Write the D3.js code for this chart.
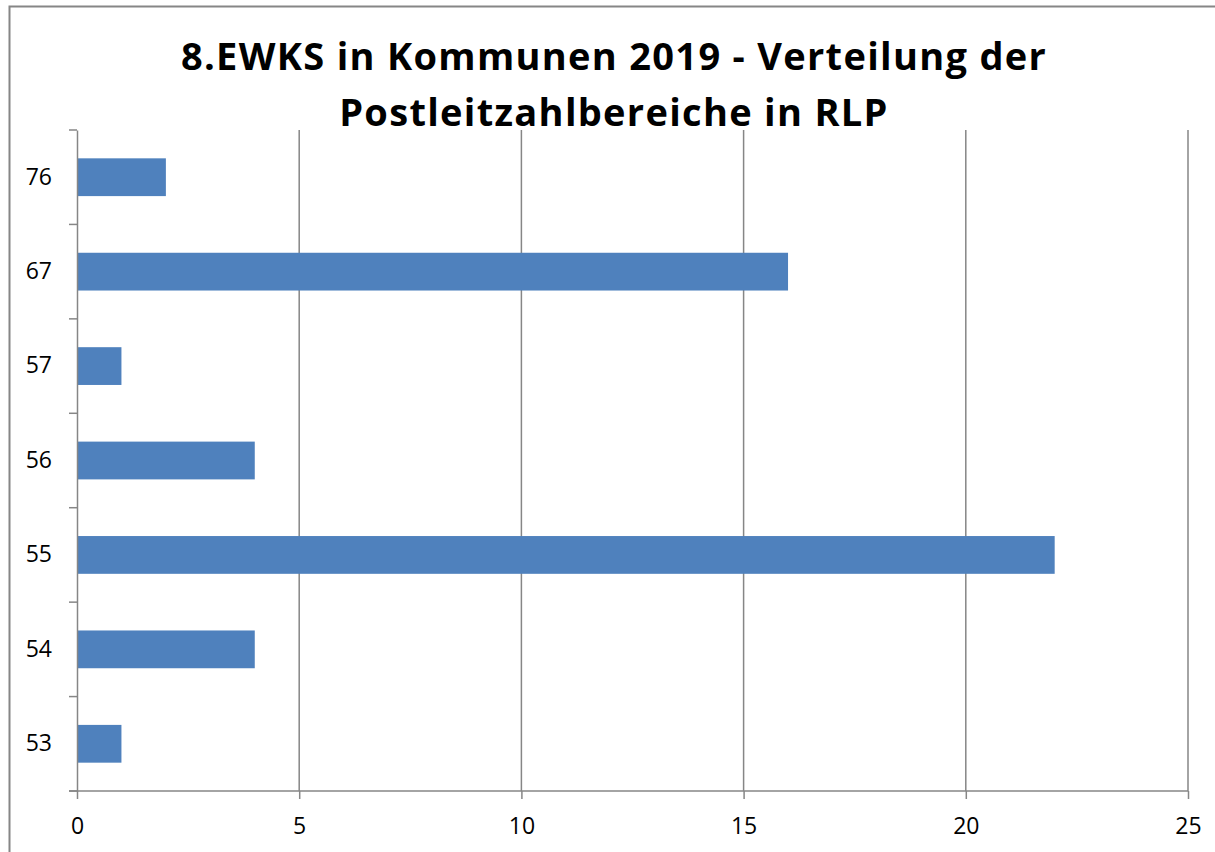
<!DOCTYPE html>
<html>
<head>
<meta charset="utf-8">
<script src="https://cdn.jsdelivr.net/npm/d3@7"></script>
<style>
  body { margin: 0; background: #fff; }
  svg { display: block; }
</style>
</head>
<body>
<script>
// Postleitzahlbereiche (von unten nach oben)
const categories = ["53", "54", "55", "56", "57", "67", "76"]
const counts     = [1, 4, 22, 4, 1, 16, 2]
const xTicks     = [0, 5, 10, 15, 20, 25]
const titleLines = ["8.EWKS in Kommunen 2019 - Verteilung der", "Postleitzahlbereiche in RLP"]

const width  = 1215,
      height = 852

let margin = {top: 130, right: 27, bottom: 61, left: 77}
let innerW = width - margin.left - margin.right,
    innerH = height - margin.top - margin.bottom

const svg = d3.select("body").append("svg")
    .attr("width", width)
    .attr("height", height)

// outer chart border
svg.append("rect")
    .attr("x", 9.5).attr("y", 6.5)
    .attr("width", width).attr("height", height)
    .attr("fill", "none")
    .attr("stroke", "#868686")
    .attr("stroke-width", 2)

const titleText = svg.append("text")
    .attr("text-anchor", "middle")
    .style("font-family", "'Open Sans', sans-serif")
    .style("font-weight", "bold")
    .style("font-size", "38px")
    .style("letter-spacing", "1.3px")
titleLines.forEach((t, i) => {
    titleText.append("tspan")
        .attr("x", 614)
        .attr("y", 70 + i * 56)
        .text(t)
})

const container = svg.append("g")
    .attr("transform", `translate(${margin.left}, ${margin.top})`)

const x = d3.scaleLinear()
    .domain([0, 25])
    .range([0, innerW])

const data = categories.map((c, i) => ({cat: c, value: counts[i]}))

const y = d3.scaleBand()
    .domain(categories.slice().reverse())
    .range([0, innerH])
    .paddingInner(0.6)
    .paddingOuter(0.3)

// vertical gridlines
container.selectAll("line.grid")
    .data(xTicks.slice(1))
    .enter()
    .append("line")
    .attr("class", "grid")
    .attr("x1", d => x(d)).attr("x2", d => x(d))
    .attr("y1", 0).attr("y2", innerH)
    .attr("stroke", "#868686")
    .attr("stroke-width", 1.5)

container.selectAll("rect.bar")
    .data(data)
    .enter()
    .append("rect")
    .attr("class", "bar")
    .attr("x", 0)
    .attr("y", d => y(d.cat))
    .attr("width", d => x(d.value))
    .attr("height", y.bandwidth())
    .attr("fill", "#4F81BD")

// x axis
const xAxis = container.append("g")
    .attr("transform", `translate(0, ${innerH})`)
    .call(d3.axisBottom(x).tickValues(xTicks).tickSize(8).tickPadding(19))
xAxis.select(".domain").attr("d", `M-8,0H${innerW}`)

// y axis: ticks sit on band boundaries
const step = y.step()
const boundaries = d3.range(categories.length + 1).map(i => i * step)
const yAxis = container.append("g")
    .call(d3.axisLeft(y).tickSize(0).tickPadding(25))
yAxis.selectAll(".bound")
    .data(boundaries)
    .enter()
    .append("line")
    .attr("class", "bound")
    .attr("x1", -8).attr("x2", 0)
    .attr("y1", d => d).attr("y2", d => d)
    .attr("stroke", "#868686")
    .attr("stroke-width", 1.5)

svg.selectAll(".domain").attr("stroke", "#868686").attr("stroke-width", 1.5)
svg.selectAll(".tick line").attr("stroke", "#868686").attr("stroke-width", 1.5)
svg.selectAll(".tick text")
    .attr("font-family", "'Open Sans', sans-serif")
    .attr("font-size", 23)
    .attr("fill", "#000")
</script>
</body>
</html>
